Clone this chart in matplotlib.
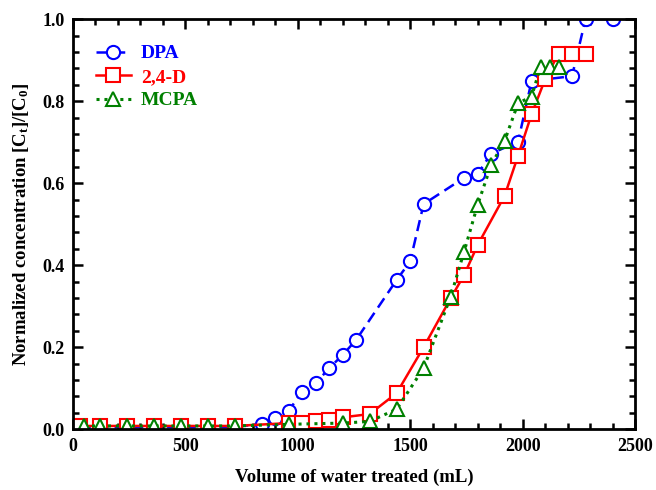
import numpy as np
import matplotlib
matplotlib.use("Agg")
import matplotlib.pyplot as plt
from matplotlib.ticker import MultipleLocator

# données
vol_dpa = [30, 120, 240, 360, 480, 600, 720, 840, 900, 960, 1020, 1080, 1140, 1200, 1260,
           1440, 1500, 1560, 1740, 1800, 1860, 1980, 2040, 2220, 2280, 2400]
c_dpa = [0.005, 0.005, 0.005, 0.005, 0.005, 0.005, 0.006, 0.013, 0.027, 0.045, 0.092, 0.112,
         0.149, 0.181, 0.218, 0.364, 0.409, 0.549, 0.613, 0.622, 0.672, 0.701, 0.849, 0.861,
         1.0, 1.0]

vol_24d = [30, 120, 240, 360, 480, 600, 720, 960, 1020, 1080, 1140, 1200, 1320, 1440, 1560,
           1680, 1740, 1800, 1920, 1980, 2040, 2100, 2160, 2220, 2280]
c_24d = [0.008, 0.008, 0.008, 0.008, 0.008, 0.008, 0.008, 0.015, 0.016, 0.019, 0.023, 0.029,
         0.037, 0.088, 0.200, 0.319, 0.376, 0.449, 0.569, 0.667, 0.768, 0.853, 0.916, 0.916,
         0.916]

vol_mcpa = [50, 120, 240, 360, 480, 600, 720, 960, 1200, 1320, 1440, 1560, 1680, 1740, 1800,
            1860, 1920, 1980, 2040, 2080, 2120, 2160]
c_mcpa = [0.008, 0.008, 0.008, 0.008, 0.008, 0.008, 0.008, 0.012, 0.015, 0.019, 0.049, 0.149,
          0.323, 0.433, 0.547, 0.644, 0.703, 0.795, 0.811, 0.884, 0.884, 0.884]

plt.rcParams['font.family'] = 'Liberation Serif'
plt.rcParams['font.weight'] = 'bold'
plt.rcParams['mathtext.fontset'] = 'custom'
plt.rcParams['mathtext.rm'] = 'Liberation Serif:bold'
plt.rcParams['mathtext.it'] = 'Liberation Serif:bold'
plt.rcParams['mathtext.bf'] = 'Liberation Serif:bold'

fig = plt.figure(figsize=(6.56, 4.90), dpi=100)
ax = fig.add_axes([0.111, 0.124, 0.857, 0.837])

ax.plot(vol_dpa, c_dpa, color='blue', ls=(0, (4.5, 2.5)), lw=1.8, marker='o', ms=9.5,
        mfc='white', mec='blue', mew=1.5, label='DPA')
ax.plot(vol_24d, c_24d, color='red', ls='-', lw=1.8, marker='s', ms=9.5,
        mfc='white', mec='red', mew=1.5, label='2,4-D')
ax.plot(vol_mcpa, c_mcpa, color='green', ls=(0, (1, 1.6)), lw=2.2, marker='^', ms=9.5,
        mfc='white', mec='green', mew=1.5, label='MCPA')

ax.set_xlim(0, 2500)
ax.set_ylim(0, 1.0)
ax.xaxis.set_major_locator(MultipleLocator(500))
ax.xaxis.set_minor_locator(MultipleLocator(100))
ax.yaxis.set_major_locator(MultipleLocator(0.2))
ax.yaxis.set_minor_locator(MultipleLocator(0.04))
ax.tick_params(which='both', direction='in', top=True, right=True, width=1.8, labelsize=13, pad=6)
ax.tick_params(which='major', length=7)
ax.tick_params(which='minor', length=4)
for s in ax.spines.values():
    s.set_linewidth(2)

ax.set_xlabel('Volume of water treated (mL)', fontsize=13.5, fontweight='bold', labelpad=10)
ax.set_ylabel(r'Normalized concentration [C$_{\mathrm{t}}$]/[C$_{\mathrm{0}}$]', fontsize=13.5,
              fontweight='bold', labelpad=8)

leg = ax.legend(loc='upper left', frameon=False, fontsize=14, handlelength=1.8,
                bbox_to_anchor=(0.01, 0.98), labelspacing=0.3, handletextpad=0.5)
for txt, c in zip(leg.get_texts(), ['blue', 'red', 'green']):
    txt.set_color(c)

fig.savefig('out.png', dpi=100)
